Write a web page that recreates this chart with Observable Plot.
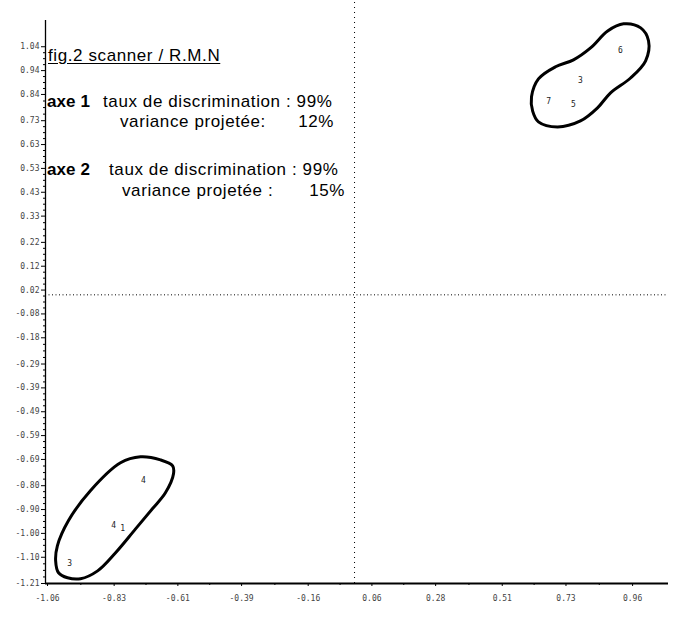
<!DOCTYPE html>
<html><head><meta charset="utf-8">
<script src="https://cdn.jsdelivr.net/npm/d3@7"></script>
<script src="https://cdn.jsdelivr.net/npm/@observablehq/plot@0.6"></script>
<style>
body{margin:0;background:#fff;}
#wrap{position:relative;width:676px;height:621px;font-family:"Liberation Sans",Arial,sans-serif;}
#wrap svg{position:absolute;left:0;top:0;}
.t{position:absolute;font-size:17px;letter-spacing:0.6px;color:#000;white-space:nowrap;line-height:1;}
.b{font-weight:bold;letter-spacing:0.1px;}
.u{text-decoration:underline;text-underline-offset:2px;}
</style></head><body><div id="wrap"></div>
<script>
// Tick labels
const yTickLabels = ["1.04","0.94","0.84","0.73","0.63","0.53","0.43","0.33","0.22","0.12","0.02","-0.08","-0.18","-0.29","-0.39","-0.49","-0.59","-0.69","-0.80","-0.90","-1.00","-1.10","-1.21"];
const xTickLabels = ["-1.06","-0.83","-0.61","-0.39","-0.16","0.06","0.28","0.51","0.73","0.96"];

// Individuals (plotted as their group digit)
const pointLabels = ["6","3","7","5","4","4","1","3"];
const pointX = [0.918, 0.780, 0.670, 0.756, -0.729, -0.832, -0.801, -0.984];
const pointY = [1.023, 0.897, 0.809, 0.800, -0.780, -0.968, -0.981, -1.127];

// Hand-drawn enclosing outlines
const blobAX = [0.611,0.635,0.694,0.756,0.815,0.874,0.929,0.988,1.015,1.005,0.953,0.884,0.839,0.780,0.701,0.635,0.615];
const blobAY = [0.830,0.905,0.956,0.985,1.035,1.106,1.136,1.119,1.065,0.981,0.909,0.847,0.784,0.729,0.704,0.725,0.770];
const blobBX = [-0.739,-0.808,-0.912,-0.988,-1.026,-1.032,-1.022,-0.991,-0.946,-0.887,-0.825,-0.756,-0.698,-0.653,-0.625,-0.628,-0.670];
const blobBY = [-0.679,-0.704,-0.821,-0.947,-1.052,-1.115,-1.165,-1.186,-1.190,-1.157,-1.081,-0.981,-0.897,-0.830,-0.750,-0.717,-0.692];

// Axis extents
const xDomain = [-1.067, 1.084];
const yDomain = [-1.21, 1.15];

const yTicks = yTickLabels.map(Number);
const xTicks = xTickLabels.map(Number);
const yLab = new Map(yTicks.map((v,i)=>[v,yTickLabels[i]]));
const xLab = new Map(xTicks.map((v,i)=>[v,xTickLabels[i]]));
const yMinor = [];
for (let i=0;i<yTicks.length-1;i++){ for (let k=1;k<4;k++) yMinor.push(yTicks[i]+(yTicks[i+1]-yTicks[i])*k/4); }
const xMinor = [];
for (let i=0;i<xTicks.length-1;i++){ xMinor.push((xTicks[i]+xTicks[i+1])/2); }

const points = pointLabels.map((l,i)=>({label:l,x:pointX[i],y:pointY[i]}));
const blobs = [
  ...blobAX.map((x,i)=>({g:"A",x,y:blobAY[i]})),
  ...blobBX.map((x,i)=>({g:"B",x,y:blobBY[i]}))
];

const chart = Plot.plot({
  width:676, height:621,
  marginLeft:45, marginRight:8, marginTop:20, marginBottom:38,
  x:{domain:xDomain}, y:{domain:yDomain},
  style:{background:"transparent", color:"#000"},
  marks:[
    Plot.ruleY([0], {stroke:"#000", strokeWidth:1, strokeDasharray:"1,2.5"}),
    Plot.ruleX([0], {y1:yDomain[0], y2:1.23, stroke:"#000", strokeWidth:1, strokeDasharray:"1,4"}),
    Plot.ruleX([xDomain[0]], {y1:yDomain[0], y2:yDomain[1], stroke:"#000", strokeWidth:1.3}),
    Plot.ruleY([yDomain[0]], {stroke:"#000", strokeWidth:2}),
    Plot.axisY({ticks:yTicks, tickFormat:d=>yLab.get(d), tickSize:4, tickPadding:2, fontSize:8, fontFamily:"DejaVu Sans Mono", fill:"#444", label:null}),
    Plot.axisY({ticks:yMinor, tickFormat:()=>"", tickSize:2, label:null}),
    Plot.axisX({ticks:xTicks, tickFormat:d=>xLab.get(d), tickSize:3, tickPadding:9, fontSize:8, fontFamily:"DejaVu Sans Mono", fill:"#444", label:null}),
    Plot.axisX({ticks:xMinor, tickFormat:()=>"", tickSize:2, label:null}),
    Plot.line(blobs, {x:"x", y:"y", z:"g", curve:"catmull-rom-closed", stroke:"#000", strokeWidth:3}),
    Plot.text(points, {x:"x", y:"y", text:"label", fontSize:8, fontFamily:"DejaVu Sans Mono", fill:"#222"})
  ]
});
const wrap = document.getElementById("wrap");
wrap.appendChild(chart);

const texts = [
  ["t u", "left:48px;top:47px", "fig.2 scanner / R.M.N"],
  ["t b", "left:47px;top:93px", "axe 1"],
  ["t", "left:103px;top:93px", "taux de discrimination : 99%"],
  ["t", "left:120px;top:113px", "variance projetée:"],
  ["t", "right:342px;top:113px", "12%"],
  ["t b", "left:47px;top:161px", "axe 2"],
  ["t", "left:109px;top:161px", "taux de discrimination : 99%"],
  ["t", "left:122px;top:182px", "variance projetée :"],
  ["t", "right:331px;top:182px", "15%"]
];
for (const [cls, st, txt] of texts){
  const d = document.createElement("div");
  d.className = cls; d.style.cssText = st; d.textContent = txt;
  wrap.appendChild(d);
}
</script></body></html>
